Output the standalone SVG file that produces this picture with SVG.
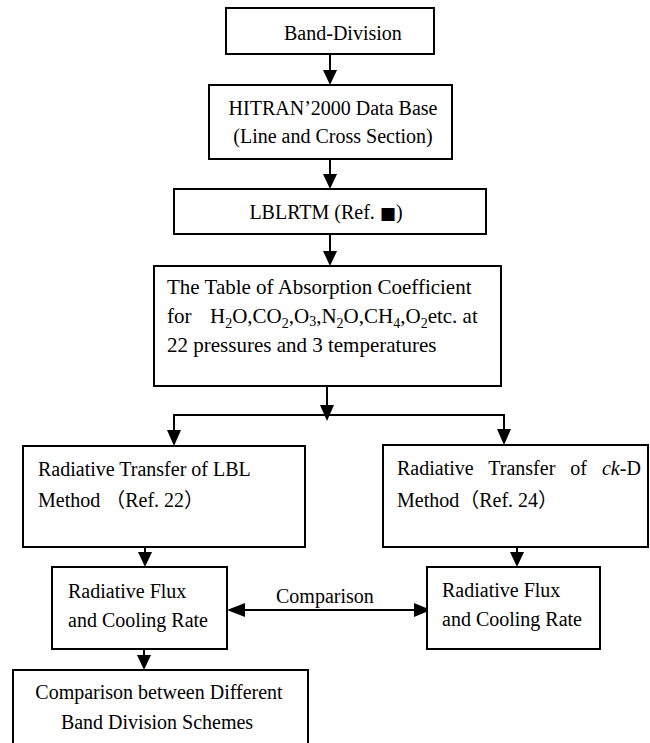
<svg xmlns="http://www.w3.org/2000/svg" width="650" height="743" viewBox="0 0 650 743">
<style>
.box{fill:#fff;stroke:#000;stroke-width:2}
.ln{fill:none;stroke:#000;stroke-width:2}
.ah{fill:#000;stroke:none}
text{font-family:"Liberation Serif","Noto Sans CJK SC",serif;font-size:20px;fill:#000}
.t21{font-size:21px}
.sub{font-size:14px}
</style>
<rect width="650" height="743" fill="#fff"/>
<g id="connectors">
  <line class="ln" x1="330" y1="54" x2="330" y2="72"/>
  <polygon class="ah" points="323,70 337,70 330,85"/>
  <line class="ln" x1="330" y1="159" x2="330" y2="176"/>
  <polygon class="ah" points="323,174 337,174 330,189"/>
  <line class="ln" x1="330" y1="234" x2="330" y2="253"/>
  <polygon class="ah" points="323,251 337,251 330,266"/>
  <line class="ln" x1="327" y1="386" x2="327" y2="408"/>
  <polygon class="ah" points="320,405 334,405 327,421"/>
  <polyline class="ln" points="174,432 174,415 504,415 504,432"/>
  <polygon class="ah" points="167,430 181,430 174,446"/>
  <polygon class="ah" points="497,429 511,429 504,445"/>
  <line class="ln" x1="145" y1="547" x2="145" y2="555"/>
  <polygon class="ah" points="138,552 152,552 145,567"/>
  <line class="ln" x1="517" y1="537" x2="517" y2="555"/>
  <polygon class="ah" points="510,552 524,552 517,567"/>
  <line class="ln" x1="144" y1="640" x2="144" y2="657"/>
  <polygon class="ah" points="137,655 151,655 144,670"/>
  <line class="ln" x1="240" y1="610" x2="418" y2="610"/>
  <polygon class="ah" points="227,610 245,603 245,617"/>
  <polygon class="ah" points="431,610 414,603 414,617"/>
  <text x="276" y="603">Comparison</text>
</g>
<g id="band-division">
  <rect class="box" x="226" y="8" width="208" height="46"/>
  <text x="284" y="40">Band-Division</text>
</g>
<g id="hitran">
  <rect class="box" x="209" y="85" width="243" height="74"/>
  <text x="333" y="115" text-anchor="middle">HITRAN’2000 Data Base</text>
  <text x="333" y="143" text-anchor="middle">(Line and Cross Section)</text>
</g>
<g id="lblrtm">
  <rect class="box" x="174" y="189" width="312" height="45"/>
  <text x="326" y="219" text-anchor="middle">LBLRTM (Ref. <tspan font-family="DejaVu Sans" font-size="17">■</tspan>)</text>
</g>
<g id="absorption-table">
  <rect class="box" x="154" y="266" width="347" height="120"/>
  <text class="t21" x="167" y="294">The Table of Absorption Coefficient</text>
  <text class="t21" x="167" y="323">for<tspan x="210">H</tspan><tspan class="sub" dy="5">2</tspan><tspan dy="-5">O,CO</tspan><tspan class="sub" dy="5">2</tspan><tspan dy="-5">,O</tspan><tspan class="sub" dy="3">3</tspan><tspan dy="-3">,N</tspan><tspan class="sub" dy="5">2</tspan><tspan dy="-5">O,CH</tspan><tspan class="sub" dy="5">4</tspan><tspan dy="-5">,O</tspan><tspan class="sub" dy="5">2</tspan><tspan dy="-5">etc. at</tspan></text>
  <text class="t21" x="167" y="352">22 pressures and 3 temperatures</text>
</g>
<g id="lbl-transfer">
  <rect class="box" x="23" y="446" width="282" height="101"/>
  <text x="38" y="476">Radiative Transfer of LBL</text>
  <text x="38" y="507">Method <tspan>（Ref. 22）</tspan></text>
</g>
<g id="ckd-transfer">
  <rect class="box" x="383" y="445" width="265" height="102"/>
  <text x="397" y="475" word-spacing="10">Radiative Transfer of <tspan font-style="italic">ck</tspan>-D</text>
  <text x="397" y="507">Method（Ref. 24）</text>
</g>
<g id="flux-lbl">
  <rect class="box" x="52" y="567" width="175" height="82"/>
  <text x="68" y="598">Radiative Flux</text>
  <text x="68" y="627">and Cooling Rate</text>
</g>
<g id="flux-ckd">
  <rect class="box" x="427" y="567" width="173" height="82"/>
  <text x="442" y="597">Radiative Flux</text>
  <text x="442" y="626">and Cooling Rate</text>
</g>
<g id="band-comparison">
  <rect class="box" x="13" y="670" width="295" height="100"/>
  <text x="159" y="699" text-anchor="middle">Comparison between Different</text>
  <text x="157" y="729" text-anchor="middle">Band Division Schemes</text>
</g>
</svg>
